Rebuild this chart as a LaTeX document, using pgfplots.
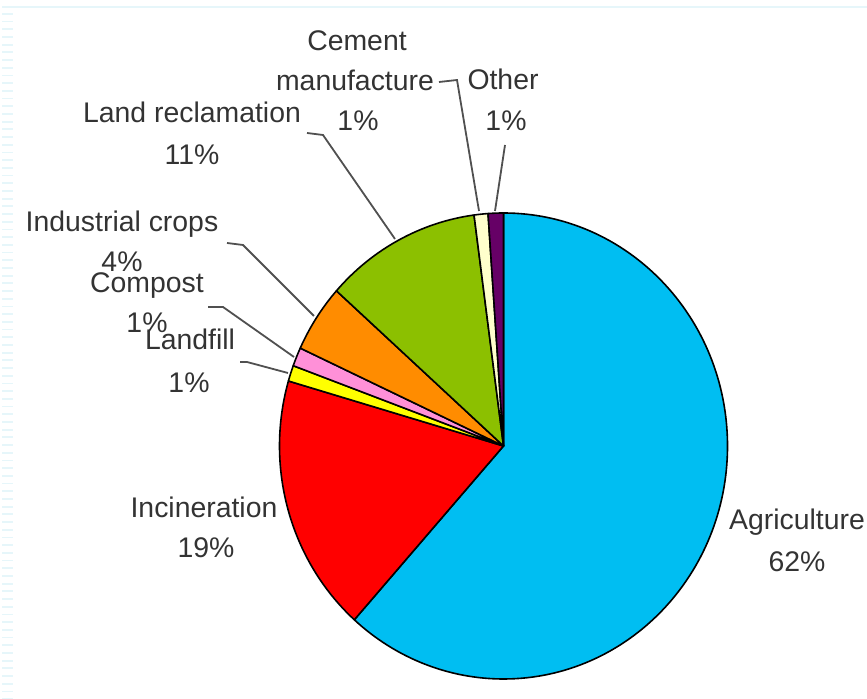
\documentclass[border=0pt]{standalone}
\usepackage{pgfplots}
\pgfplotsset{compat=1.18}
\usepackage{fontspec}
\setmainfont{Liberation Sans}
\definecolor{cAgri}{HTML}{00BEF2}
\definecolor{cInc}{HTML}{FF0000}
\definecolor{cLand}{HTML}{FFFF00}
\definecolor{cComp}{HTML}{FF90D8}
\definecolor{cInd}{HTML}{FF8C00}
\definecolor{cRecl}{HTML}{8CC000}
\definecolor{cCem}{HTML}{FFFFCC}
\definecolor{cOth}{HTML}{660066}
\definecolor{cTxt}{HTML}{333333}
\definecolor{cLead}{HTML}{505050}
\definecolor{cBorder}{HTML}{E6F6FA}
\tikzset{lbl/.style={font=\fontsize{28.5}{34}\selectfont, text=cTxt, inner sep=0pt, anchor=base}}
\begin{document}
\begin{tikzpicture}
\begin{axis}[
  scale only axis, width=867bp, height=699bp,
  xmin=0, xmax=867, ymin=0, ymax=699,
  hide axis, clip=false,
]
% faint frame of the original picture
\draw[cBorder, line width=2bp] (axis cs:2,692) -- (axis cs:867,692);
\draw[cBorder, line width=11bp, dash pattern=on 1.8bp off 5.9bp] (axis cs:7.5,686) -- (axis cs:7.5,0);
% pie slices (percent of total), clockwise from 12 o'clock
\xdef\startang{90}
\foreach \v/\c in {61.6/cAgri, 17.9/cInc, 1.1/cLand, 1.3/cComp, 4.7/cInd, 11.3/cRecl, 1.0/cCem, 1.1/cOth}{
  \pgfmathsetmacro\endang{\startang-3.6*\v}
  \edef\temp{\noexpand\filldraw[fill=\c, draw=black, line width=1.6bp, line join=round]
    (axis cs:503.5,253) -- ++(\startang:224bp and 233bp)
    arc[start angle=\startang, end angle=\endang, x radius=224bp, y radius=233bp] -- cycle;}
  \temp
  \xdef\startang{\endang}
}
% leader lines
\draw[cLead, line width=1.8bp] (axis cs:439,617) -- (axis cs:457,619) -- (axis cs:479,488);
\draw[cLead, line width=1.8bp] (axis cs:505,554) -- (axis cs:495,488);
\draw[cLead, line width=1.8bp] (axis cs:307,566) -- (axis cs:323,564) -- (axis cs:395,460);
\draw[cLead, line width=1.8bp] (axis cs:227,456) -- (axis cs:243,454) -- (axis cs:314,383);
\draw[cLead, line width=1.8bp] (axis cs:208,392) -- (axis cs:223,392) -- (axis cs:294,342);
\draw[cLead, line width=1.8bp] (axis cs:240,337) -- (axis cs:247,337) -- (axis cs:288,326);
% labels
\node[lbl] at (axis cs:357,648) {Cement};
\node[lbl] at (axis cs:355,608) {manufacture};
\node[lbl] at (axis cs:358,568) {1\%};
\node[lbl] at (axis cs:503,609) {Other};
\node[lbl] at (axis cs:506,568) {1\%};
\node[lbl] at (axis cs:192,576) {Land reclamation};
\node[lbl] at (axis cs:192,534) {11\%};
\node[lbl] at (axis cs:122,467) {Industrial crops};
\node[lbl] at (axis cs:122,427) {4\%};
\node[lbl] at (axis cs:147,406) {Compost};
\node[lbl] at (axis cs:147,366) {1\%};
\node[lbl] at (axis cs:190,349) {Landfill};
\node[lbl] at (axis cs:189,306) {1\%};
\node[lbl] at (axis cs:204,181) {Incineration};
\node[lbl] at (axis cs:206,141) {19\%};
\node[lbl] at (axis cs:797,169) {Agriculture};
\node[lbl] at (axis cs:797,127) {62\%};
\end{axis}
\pgfresetboundingbox
\path (0,0) rectangle (867bp,699bp);
\end{tikzpicture}
\end{document}
